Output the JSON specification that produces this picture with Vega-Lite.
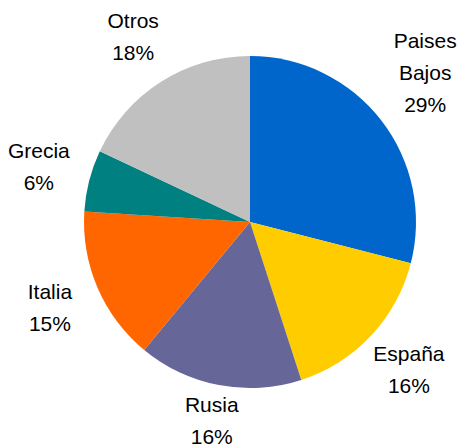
{
  "$schema": "https://vega.github.io/schema/vega-lite/v6.json",
  "width": 434,
  "height": 444,
  "autosize": {"type": "none"},
  "padding": {"left": 33, "right": 0, "top": 0, "bottom": 4},
  "background": "white",
  "view": {"stroke": null},
  "data": {
    "values": [
      {"idx": 1, "pais": "Paises Bajos", "label": "Paises\nBajos\n29%", "lines": 3, "pct": 29},
      {"idx": 2, "pais": "España", "label": "España\n16%", "lines": 2, "pct": 16},
      {"idx": 3, "pais": "Rusia", "label": "Rusia\n16%", "lines": 2, "pct": 16},
      {"idx": 4, "pais": "Italia", "label": "Italia\n15%", "lines": 2, "pct": 15},
      {"idx": 5, "pais": "Grecia", "label": "Grecia\n6%", "lines": 2, "pct": 6},
      {"idx": 6, "pais": "Otros", "label": "Otros\n18%", "lines": 2, "pct": 18}
    ]
  },
  "encoding": {
    "theta": {"field": "pct", "type": "quantitative", "stack": true},
    "order": {"field": "idx", "type": "quantitative"}
  },
  "layer": [
    {
      "mark": {"type": "arc", "outerRadius": 166},
      "encoding": {
        "color": {
          "field": "pais",
          "type": "nominal",
          "scale": {
            "domain": ["Paises Bajos", "España", "Rusia", "Italia", "Grecia", "Otros"],
            "range": ["#0066CC", "#FFCC00", "#666699", "#FF6600", "#008080", "#C0C0C0"]
          },
          "legend": null
        }
      }
    },
    {
      "mark": {
        "type": "text",
        "radius": 218,
        "dy": -16,
        "font": "Liberation Sans",
        "fontSize": 21,
        "lineHeight": 32,
        "lineBreak": "\n",
        "align": "center",
        "baseline": "middle",
        "color": "black"
      },
      "encoding": {
        "text": {
          "condition": {"test": "datum.lines == 2 && datum.idx != 3", "field": "label", "type": "nominal"},
          "value": ""
        }
      }
    },
    {
      "mark": {
        "type": "text",
        "radius": 204,
        "dy": -16,
        "font": "Liberation Sans",
        "fontSize": 21,
        "lineHeight": 32,
        "lineBreak": "\n",
        "align": "center",
        "baseline": "middle",
        "color": "black"
      },
      "encoding": {
        "text": {
          "condition": {"test": "datum.idx == 3", "field": "label", "type": "nominal"},
          "value": ""
        }
      }
    },
    {
      "mark": {
        "type": "text",
        "radius": 228,
        "dx": -5,
        "dy": -40,
        "font": "Liberation Sans",
        "fontSize": 21,
        "lineHeight": 32,
        "lineBreak": "\n",
        "align": "center",
        "baseline": "middle",
        "color": "black"
      },
      "encoding": {
        "text": {
          "condition": {"test": "datum.lines == 3", "field": "label", "type": "nominal"},
          "value": ""
        }
      }
    }
  ]
}
